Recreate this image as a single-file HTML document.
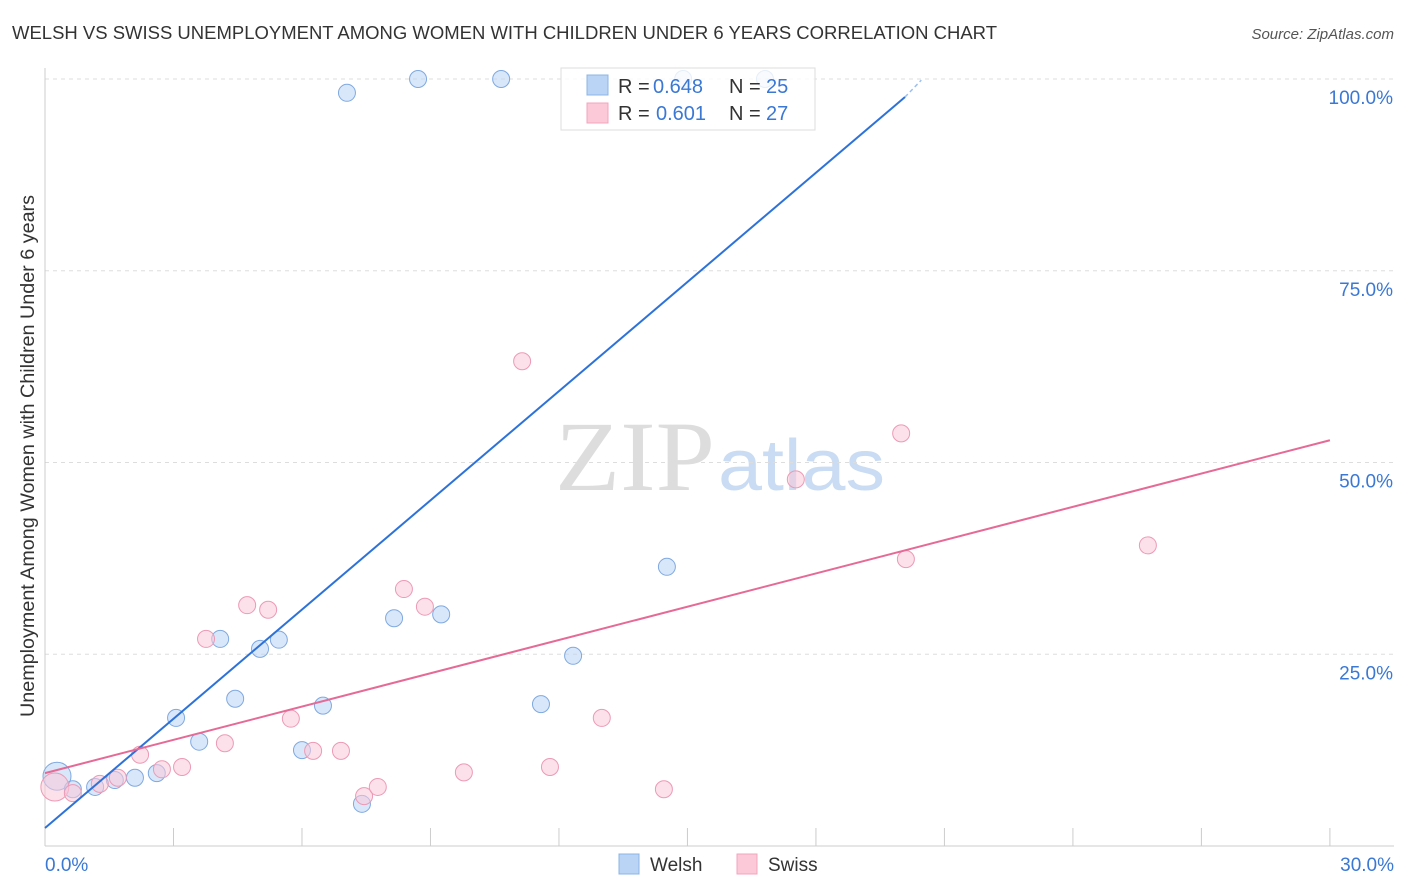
<!DOCTYPE html>
<html><head><meta charset="utf-8"><style>
body{margin:0;background:#fff;font-family:"Liberation Sans",sans-serif;}
svg{display:block}
</style></head><body>
<svg id="chart" width="1406" height="892">
<text x="12" y="39" font-size="18" fill="#333" textLength="985" lengthAdjust="spacingAndGlyphs">WELSH VS SWISS UNEMPLOYMENT AMONG WOMEN WITH CHILDREN UNDER 6 YEARS CORRELATION CHART</text>
<text x="1394" y="39" font-size="15" fill="#555" font-style="italic" text-anchor="end">Source: ZipAtlas.com</text>
<text x="635" y="490" font-size="100" fill="#ddd" font-family="Liberation Serif,serif" text-anchor="middle" textLength="160" lengthAdjust="spacingAndGlyphs">ZIP</text>
<text x="718" y="490" font-size="72" fill="#c9dcf3" textLength="167" lengthAdjust="spacingAndGlyphs">atlas</text>
<text transform="translate(34,456) rotate(-90)" font-size="19" fill="#333" text-anchor="middle" textLength="522" lengthAdjust="spacingAndGlyphs">Unemployment Among Women with Children Under 6 years</text>
<g id="grid"></g><g id="marks"></g>
<g>
<rect x="561" y="68" width="254" height="62" fill="#fff" fill-opacity="0.8" stroke="#ddd"/>
<rect x="587" y="75" width="21" height="20" fill="#b9d4f5" stroke="#8db4e6"/>
<rect x="587" y="103" width="21" height="20" fill="#fbc9d8" stroke="#f2a5bd"/>
<text x="618" y="93" font-size="20" fill="#333">R =</text>
<text x="653" y="93" font-size="20" fill="#3a78d4">0.648</text>
<text x="729" y="93" font-size="20" fill="#333">N =</text>
<text x="766" y="93" font-size="20" fill="#3a78d4">25</text>
<text x="618" y="120" font-size="20" fill="#333">R =</text>
<text x="656" y="120" font-size="20" fill="#3a78d4">0.601</text>
<text x="729" y="120" font-size="20" fill="#333">N =</text>
<text x="766" y="120" font-size="20" fill="#3a78d4">27</text>
</g>
<g>
<rect x="619" y="854" width="20" height="20" fill="#b9d4f5" stroke="#8db4e6"/>
<text x="650" y="871" font-size="19" fill="#333">Welsh</text>
<rect x="737" y="854" width="20" height="20" fill="#fbc9d8" stroke="#f2a5bd"/>
<text x="768" y="871" font-size="19" fill="#333">Swiss</text>
</g>
</svg>
<script>
const xTicks=["0.0%","30.0%"];
const yTickVals=[25,50,75,100];
const yTickLabels=["25.0%","50.0%","75.0%","100.0%"];
const welshX=[0.28,0.65,1.17,1.63,2.10,2.61,3.06,3.60,4.09,4.44,5.02,5.46,6.0,6.49,7.05,7.40,8.15,8.71,9.25,10.65,11.58,12.33,14.52,14.9,16.81];
const welshY=[9.1,7.4,7.7,8.6,8.9,9.5,16.7,13.6,27.0,19.2,25.7,26.9,12.5,18.3,98.2,5.5,29.7,100,30.2,100,18.5,24.8,36.4,100,100];
const swissX=[0.23,0.65,1.28,1.70,2.22,2.73,3.2,3.76,4.2,4.72,5.21,5.74,6.26,6.91,7.45,7.77,8.38,8.87,9.78,11.14,11.79,13.0,14.45,17.53,19.99,20.1,25.75];
const swissY=[7.7,6.9,8.1,8.9,11.9,10.0,10.3,27.0,13.4,31.4,30.8,16.6,12.4,12.4,6.5,7.7,33.5,31.2,9.6,63.2,10.3,16.7,7.4,47.8,53.8,37.4,39.2];
const welshTrend=[[0,2.35],[20.08,97.65]];
const swissTrend=[[0,9.5],[30,52.9]];
const NS="http://www.w3.org/2000/svg";
const X=v=>45+v*42.83, Y=v=>846-v*7.67;
function mk(t,a,p){const e=document.createElementNS(NS,t);for(const k in a)e.setAttribute(k,a[k]);p.appendChild(e);return e;}
const g=document.getElementById('grid'), m=document.getElementById('marks');
yTickVals.forEach((v,i)=>{
 const l=mk('line',{x1:45,x2:1394,y1:Y(v),y2:Y(v),stroke:'#ddd','stroke-dasharray':'4,4'},g);
 
 
 const t=mk('text',{x:1393,y:Y(v)+25,'font-size':19,fill:'#3a78d4','text-anchor':'end'},g);t.textContent=yTickLabels[i];
 
 
});
mk('line',{x1:45,x2:45,y1:68,y2:846,stroke:'#ccc'},g);
mk('line',{x1:45,x2:1394,y1:846,y2:846,stroke:'#ccc'},g);
for(let i=0;i<=10;i++){mk('line',{x1:X(i*3),x2:X(i*3),y1:828,y2:846,stroke:'#ccc'},g);}
[[0,'start',45],[30,'end',1394]].forEach((d,i)=>{const t=mk('text',{x:d[2],y:871,'font-size':19,fill:'#3a78d4','text-anchor':d[1]},g);t.textContent=xTicks[i];
 
 });
function pts(xs,ys,fill,stroke,name){xs.forEach((x,i)=>{const c=mk('circle',{cx:X(x),cy:Y(ys[i]),r:i==0?14:8.5,fill:fill,'fill-opacity':0.55,stroke:stroke,'stroke-width':1},m);
 
 });}
pts(welshX,welshY,'#b9d4f5','#7fa9e0','welsh-point');
pts(swissX,swissY,'#fbc9d8','#ec9ab5','swiss-point');
let l=mk('line',{x1:X(welshTrend[0][0]),y1:Y(welshTrend[0][1]),x2:X(welshTrend[1][0]),y2:Y(welshTrend[1][1]),stroke:'#2d72d9','stroke-width':2},m);


mk('line',{x1:X(welshTrend[1][0]),y1:Y(welshTrend[1][1]),x2:X(welshTrend[1][0]+0.38),y2:Y(welshTrend[1][1]+2.2),stroke:'#9cc0ee','stroke-width':1.5,'stroke-dasharray':'4,3'},m);
l=mk('line',{x1:X(swissTrend[0][0]),y1:Y(swissTrend[0][1]),x2:X(swissTrend[1][0]),y2:Y(swissTrend[1][1]),stroke:'#e56a95','stroke-width':2},m);


</script>
</body></html>
